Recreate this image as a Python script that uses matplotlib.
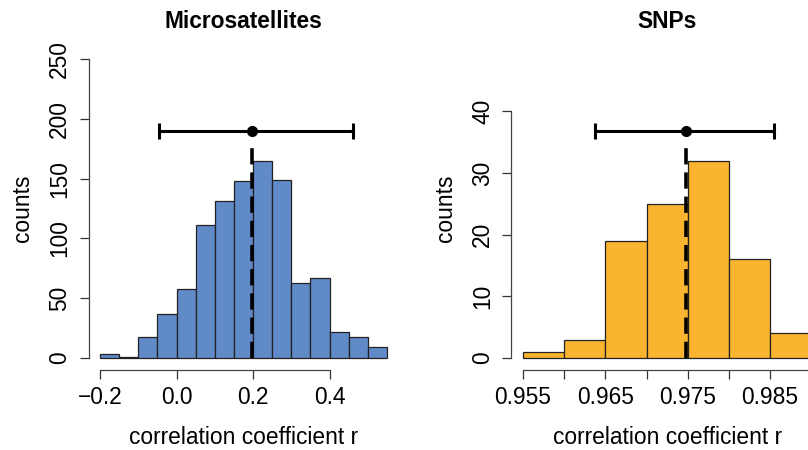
import numpy as np
import matplotlib
matplotlib.use("Agg")
import matplotlib.pyplot as plt

plt.rcParams['font.family'] = ['Liberation Sans', 'DejaVu Sans']

# Microsatellites histogram (bin width 0.05)
ms_edges = [-0.20, -0.15, -0.10, -0.05, 0.00, 0.05, 0.10, 0.15, 0.20,
            0.25, 0.30, 0.35, 0.40, 0.45, 0.50, 0.55]
ms_counts = [3, 1, 18, 37, 58, 111, 131, 148, 165, 149, 63, 67, 22, 18, 9]
ms_mean = 0.196
ms_ci = (-0.046, 0.461)
ms_bar_y = 190
ms_dash_top = 176

# SNPs histogram (bin width 0.005)
snp_edges = [0.955, 0.960, 0.965, 0.970, 0.975, 0.980, 0.985, 0.990]
snp_counts = [1, 3, 19, 25, 32, 16, 4]
snp_mean = 0.97475
snp_ci = (0.96372, 0.98547)
snp_bar_y = 36.8
snp_dash_top = 34.2

FS = 16.4
W, H = 808, 450
fig = plt.figure(figsize=(W / 100, H / 100), dpi=100)


def panel(rect_px, edges, counts, color, mean, ci, bar_y, dash_top,
          xlim, ylim, xticks, xlabels, yticks, title):
    x0, x1, y0, y1 = rect_px
    ax = fig.add_axes([x0 / W, (H - y1) / H, (x1 - x0) / W, (y1 - y0) / H])
    edges = np.array(edges)
    ax.bar(edges[:-1], counts, width=np.diff(edges), align='edge',
           color=color, edgecolor='#222222', linewidth=0.9, zorder=2)
    ax.vlines(mean, 0, dash_top, colors='black', linewidth=2.6,
              linestyles=(0, (4.5, 2.2)), zorder=3)
    ax.errorbar([mean], [bar_y], xerr=[[mean - ci[0]], [ci[1] - mean]],
                fmt='o', color='black', ms=7, elinewidth=2.2, capsize=6,
                capthick=2.2, zorder=4)
    ax.set_xlim(xlim)
    ax.set_ylim(ylim)
    for s in ('top', 'right'):
        ax.spines[s].set_visible(False)
    for s in ('left', 'bottom'):
        ax.spines[s].set_color('#444444')
        ax.spines[s].set_linewidth(0.9)
    ax.spines['bottom'].set_bounds(xticks[0], xticks[-1])
    ax.spines['left'].set_bounds(yticks[0], yticks[-1])
    ax.set_xticks(xticks)
    ax.set_xticklabels(xlabels)
    ax.set_yticks(yticks)
    ax.set_yticklabels([str(v) for v in yticks], rotation=90, va='center')
    ax.tick_params(axis='both', direction='out', length=6.5, width=0.9,
                   color='#333333', labelsize=FS)
    ax.tick_params(axis='x', pad=5)
    ax.tick_params(axis='y', pad=6)
    ax.set_xlabel('correlation coefficient r', fontsize=FS, labelpad=12)
    ax.set_ylabel('counts', fontsize=FS, labelpad=10)
    ax.set_title(title, fontsize=FS, fontweight='bold', pad=14)
    ax.patch.set_visible(False)
    return ax


panel((88.5, 398.5, 47, 370), ms_edges, ms_counts, '#608ac8',
      ms_mean, ms_ci, ms_bar_y, ms_dash_top,
      (-0.23, 0.58), (-10, 260),
      [-0.2, 0.0, 0.2, 0.4], ['\u22120.2', '0.0', '0.2', '0.4'],
      [0, 50, 100, 150, 200, 250], 'Microsatellites')

snp_ticks = [0.955, 0.960, 0.965, 0.970, 0.975, 0.980, 0.985, 0.990]
snp_labels = ['0.955', '', '0.965', '', '0.975', '', '0.985', '']
panel((511.5, 822.7, 47, 370), snp_edges, snp_counts, '#fbb42f',
      snp_mean, snp_ci, snp_bar_y, snp_dash_top,
      (0.9536, 0.9914), (-1.94, 50.4),
      snp_ticks, snp_labels,
      [0, 10, 20, 30, 40], 'SNPs')

fig.savefig('out.png', dpi=100)
